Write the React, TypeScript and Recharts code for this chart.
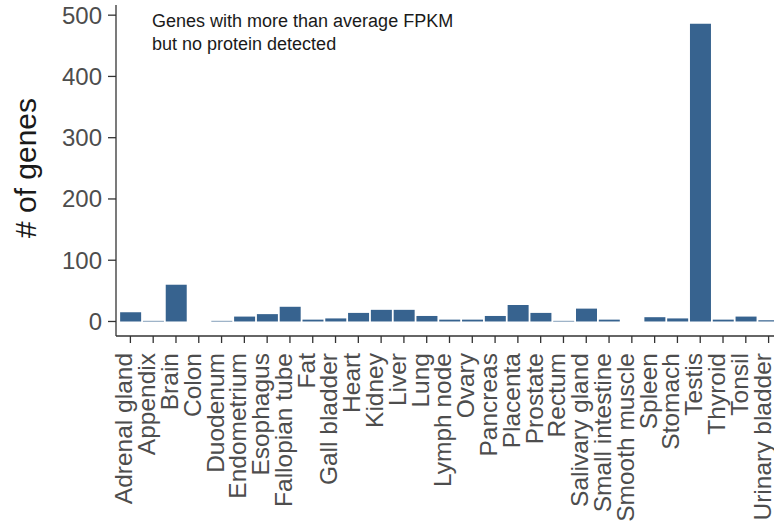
import { Bar, BarChart, XAxis, YAxis } from 'recharts';

const tissues = [
  'Adrenal gland', 'Appendix', 'Brain', 'Colon', 'Duodenum', 'Endometrium', 'Esophagus',
  'Fallopian tube', 'Fat', 'Gall bladder', 'Heart', 'Kidney', 'Liver', 'Lung', 'Lymph node',
  'Ovary', 'Pancreas', 'Placenta', 'Prostate', 'Rectum', 'Salivary gland', 'Small intestine',
  'Smooth muscle', 'Spleen', 'Stomach', 'Testis', 'Thyroid', 'Tonsil', 'Urinary bladder',
];

const geneCounts = [
  15, 1, 60, 0, 1, 8, 12,
  24, 3, 5, 14, 19, 19, 9, 3,
  3, 9, 27, 14, 1, 21, 3,
  0, 7, 5, 486, 3, 8, 2,
];

const yTicks = [0, 100, 200, 300, 400, 500];

const FONT = '"Liberation Sans", Arial, sans-serif';
const BAR_COLOR = '#37638f';

interface TickProps {
  x?: number;
  y?: number;
  payload?: { value: string };
}

const RotatedTick = ({ x = 0, y = 0, payload }: TickProps) => (
  <text
    x={x}
    y={y + 8}
    dy="0.08em"
    transform={`rotate(-90, ${x}, ${y + 8})`}
    textAnchor="end"
    fontSize={24.5}
    fontFamily={FONT}
    fill="#4d4d4d"
  >
    {payload?.value}
  </text>
);

const YTitle = ({ viewBox }: { viewBox?: { x: number; y: number; width: number; height: number } }) => {
  if (!viewBox) return null;
  const cx = 25;
  const cy = 168;
  return (
    <text
      x={cx}
      y={cy}
      transform={`rotate(-90, ${cx}, ${cy})`}
      textAnchor="middle"
      dominantBaseline="central"
      fontSize={30}
      fontFamily={FONT}
      fill="#1a1a1a"
    >
      # of genes
    </text>
  );
};

export default function App() {
  const chartData = tissues.map((name, i) => ({ name, genes: geneCounts[i] }));

  return (
    <div style={{ position: 'absolute', left: 0, top: 0, width: 774, height: 524, overflow: 'hidden', background: '#fff' }}>
      <BarChart
        width={790}
        height={524}
        data={chartData}
        margin={{ top: 5, right: 0, bottom: 0, left: 0 }}
        barCategoryGap="5%"
      >
        <XAxis
          dataKey="name"
          interval={0}
          height={188}
          padding={{ left: 3, right: 10 }}
          tick={<RotatedTick />}
          tickSize={7}
          tickLine={{ stroke: '#333', strokeWidth: 1.3 }}
          axisLine={{ stroke: '#333', strokeWidth: 1.3 }}
        />
        <YAxis
          type="number"
          width={116}
          domain={[-23.7, 516.6]}
          allowDataOverflow
          ticks={yTicks}
          interval={0}
          tickSize={8}
          tickMargin={6}
          tick={{ fontSize: 24, fontFamily: FONT, fill: '#4d4d4d' }}
          tickLine={{ stroke: '#333', strokeWidth: 1.3 }}
          axisLine={{ stroke: '#333', strokeWidth: 1.3 }}
          label={<YTitle />}
        />
        <Bar dataKey="genes" fill={BAR_COLOR} isAnimationActive={false} />
      </BarChart>
      <div
        style={{
          position: 'absolute',
          left: 152,
          top: 10,
          fontFamily: FONT,
          fontSize: 18,
          lineHeight: '23px',
          color: '#1a1a1a',
        }}
      >
        Genes with more than average FPKM
        <br />
        but no protein detected
      </div>
    </div>
  );
}
